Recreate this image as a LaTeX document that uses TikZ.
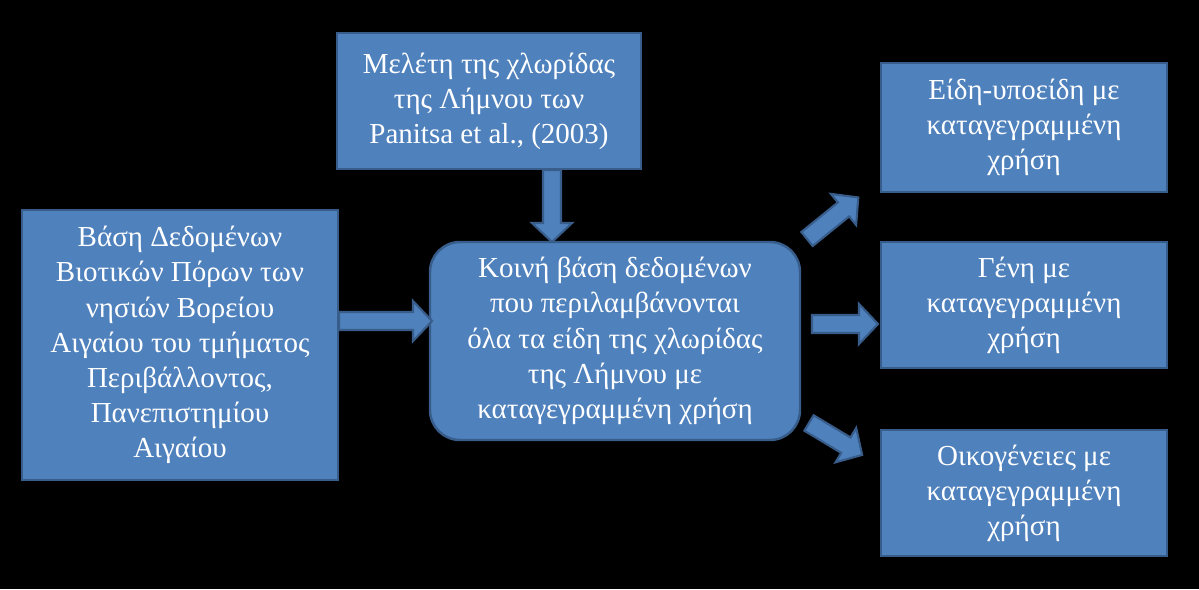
\documentclass[tikz,border=0pt]{standalone}
\usepackage{fontspec}
\setmainfont{Liberation Serif}
\definecolor{boxfill}{HTML}{4F81BD}
\definecolor{boxline}{HTML}{385D8A}
\begin{document}
\begin{tikzpicture}[x=0.02cm, y=-0.02cm,
    every node/.style = {shape=rectangle, draw=boxline, line width=1.4pt, fill=boxfill,
      text=white, align=center, font=\fontsize{16.5}{20}\selectfont, inner sep=0pt,
      execute at begin node={\rule{0pt}{26pt}}},
    arrowbody/.style = {draw=boxline, line width=1.2pt, fill=boxfill, line join=miter},
    pics/blockarrow/.style = {code={
      \draw[arrowbody] (0,-9) -- (#1-19,-9) -- (#1-19,-20) -- (#1,0)
        -- (#1-19,20) -- (#1-19,9) -- (0,9) -- cycle;}}]
    \fill[black] (0,0) rectangle (1199,589);
    \useasboundingbox (0,0) rectangle (1199,589);
    \node (base) [minimum width=316*0.02cm, minimum height=270*0.02cm] at (180,345)
      {Βάση Δεδομένων\\ Βιοτικών Πόρων των\\ νησιών Βορείου\\ Αιγαίου του τμήματος\\ Περιβάλλοντος,\\ Πανεπιστημίου\\ Αιγαίου};
    \node (study) [minimum width=304*0.02cm, minimum height=136*0.02cm] at (489,101)
      {Μελέτη της χλωρίδας\\ της Λήμνου των\\ Panitsa et al., (2003)};
    \node (common) [rounded corners=0.6cm, minimum width=370*0.02cm, minimum height=198*0.02cm] at (615,341)
      {Κοινή βάση δεδομένων\\ που περιλαμβάνονται\\ όλα τα είδη της χλωρίδας\\ της Λήμνου με\\ καταγεγραμμένη χρήση};
    \node (species) [minimum width=286*0.02cm, minimum height=129*0.02cm] at (1024,127.5)
      {Είδη-υποείδη με\\ καταγεγραμμένη\\ χρήση};
    \node (genera) [minimum width=286*0.02cm, minimum height=126*0.02cm] at (1024,305)
      {Γένη με\\ καταγεγραμμένη\\ χρήση};
    \node (families) [minimum width=286*0.02cm, minimum height=126*0.02cm] at (1024,493)
      {Οικογένειες με\\ καταγεγραμμένη\\ χρήση};
    % block arrows
    \pic at (339,321) {blockarrow=93};
    \pic[rotate=-90] at (552,170) {blockarrow=72};
    \pic at (812,324) {blockarrow=66};
    \pic[rotate=39] at (807,239) {blockarrow=66};
    \pic[rotate=-31] at (809,423) {blockarrow=62};
\end{tikzpicture}
\end{document}
